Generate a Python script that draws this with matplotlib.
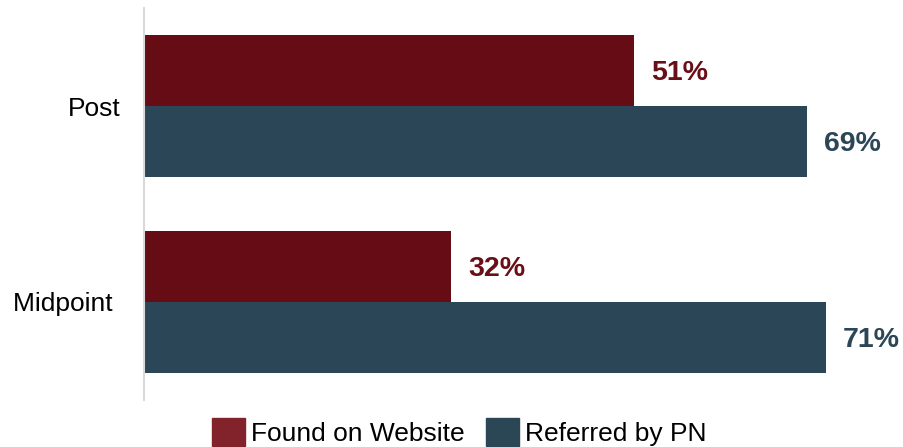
import matplotlib.pyplot as plt
from matplotlib.patches import Patch

plt.rcParams['font.family'] = ['Liberation Sans', 'DejaVu Sans']

categories = ["Midpoint ", "Post"]
found_website = [32, 51]
referred_pn = [71, 69]
series_names = ["Found on Website", "Referred by PN"]

bar_colors = ["#650C14", "#2A4657"]
legend_colors = ["#82222A", "#2B4655"]
label_colors = ["#6A0F17", "#2B4657"]

fig = plt.figure(figsize=(9.04, 4.47), dpi=100)
ax = fig.add_axes([144 / 904, 47 / 447, 760 / 904, 392 / 447])

h = 0.36
ypos = range(len(categories))
for vals, off, color, lcolor in [(found_website, h / 2, bar_colors[0], label_colors[0]),
                                  (referred_pn, -h / 2, bar_colors[1], label_colors[1])]:
    ys = [y + off for y in ypos]
    bars = ax.barh(ys, vals, height=h, color=color)
    for b, v in zip(bars, vals):
        ax.annotate(f"{v}%", (b.get_width(), b.get_y() + b.get_height() / 2),
                    xytext=(12, -2), textcoords="offset points",
                    ha="left", va="center", fontsize=20.5, fontweight="bold",
                    color=lcolor)

ax.set_xlim(0, 79.1)
ax.set_ylim(-0.5, 1.5)
ax.set_yticks(list(ypos))
ax.set_yticklabels(categories, fontsize=19)
ax.tick_params(axis="y", length=0, pad=17)
ax.set_xticks([])
for side in ["top", "right", "bottom"]:
    ax.spines[side].set_visible(False)
ax.spines["left"].set_color("#D9D9D9")
ax.spines["left"].set_linewidth(1.5)

handles = [Patch(color=c, label=n) for c, n in zip(legend_colors, series_names)]
fig.legend(handles=handles, loc="center", bbox_to_anchor=(0.508, 0.033),
           ncol=2, frameon=False, fontsize=19, handlelength=1.25,
           handleheight=1.25, handletextpad=0.23, columnspacing=0.8,
           borderpad=0, borderaxespad=0)

fig.savefig("out.png", dpi=100)
